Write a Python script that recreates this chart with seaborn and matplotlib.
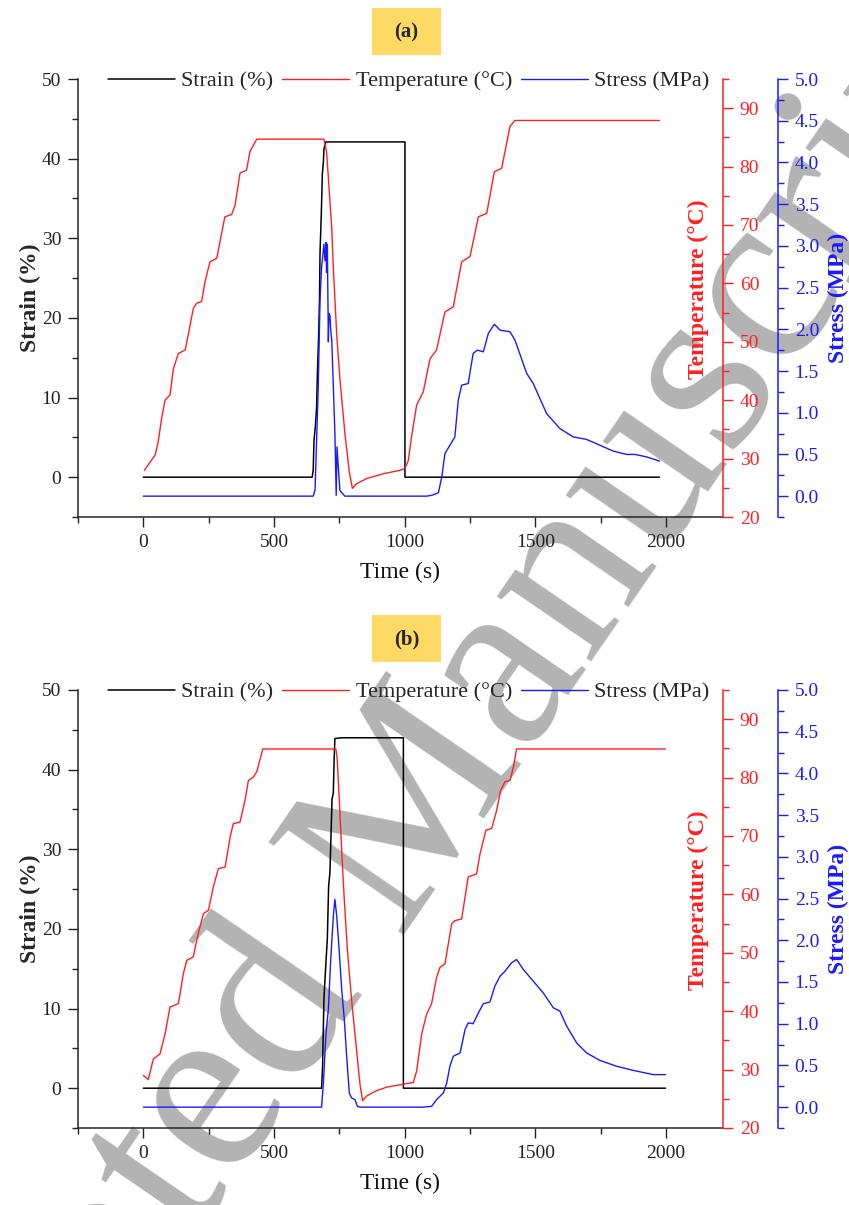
import matplotlib
matplotlib.use('Agg')
import numpy as np
import pandas as pd
import matplotlib.pyplot as plt
import seaborn as sns
from matplotlib.ticker import MultipleLocator
from matplotlib.lines import Line2D
from matplotlib.patches import Rectangle

sns.set_style('ticks')
plt.rcParams['font.family'] = ['Liberation Serif', 'DejaVu Serif']

# ---- panel (a) ----
a_strain_t = [0, 646, 650, 653, 658, 663, 666, 671, 674, 676,
              681, 685, 689, 691, 698, 1001, 1001, 1975]
a_strain = [0, 0, 0.9, 4.6, 6.3, 8.8, 13.0, 18.0, 22.2, 28.1,
            33.1, 38.1, 39.6, 41.2, 42.1, 42.1, 0, 0]

a_temp_t = [4, 26, 45, 57, 70, 83, 102, 115, 134, 160,
            172, 191, 204, 223, 236, 255, 281, 293, 312, 338,
            351, 370, 395, 408, 434, 691, 701, 709, 721, 727,
            740, 752, 772, 788, 800, 816, 855, 918, 982, 1001,
            1014, 1027, 1046, 1071, 1097, 1122, 1154, 1186, 1218, 1250,
            1282, 1314, 1343, 1371, 1403, 1422, 1975]
a_temp = [28.0, 29.4, 30.6, 32.9, 36.9, 40.0, 40.9, 45.4, 48.0, 48.6,
          51.2, 55.7, 56.6, 56.9, 60.3, 63.7, 64.3, 67.1, 71.4, 71.8,
          73.4, 78.9, 79.4, 82.6, 84.7, 84.7, 82.6, 77.4, 69.4, 62.6,
          51.2, 43.7, 34.0, 27.7, 24.9, 25.7, 26.6, 27.4, 28.0, 28.3,
          29.7, 34.0, 39.2, 41.4, 47.1, 48.6, 55.1, 56.0, 63.7, 64.6,
          71.4, 72.0, 79.1, 79.7, 86.9, 87.9, 87.9]

a_stress_t = [0, 650, 657, 663, 669, 676, 682, 691, 695, 699,
              701, 704, 708, 710, 714, 717, 721, 727, 733, 738,
              741, 746, 752, 771, 1084, 1103, 1129, 1142, 1154, 1173,
              1192, 1205, 1218, 1243, 1262, 1278, 1301, 1320, 1343, 1365,
              1403, 1422, 1467, 1492, 1543, 1594, 1645, 1696, 1747, 1798,
              1849, 1881, 1926, 1975]
a_stress = [0, 0, 0.07, 0.67, 1.27, 2.34, 2.74, 3.02, 2.82, 3.04,
            2.68, 3.02, 1.85, 2.19, 2.17, 1.99, 1.87, 1.31, 0.75, 0.01,
            0.59, 0.35, 0.07, 0, 0, 0.01, 0.04, 0.23, 0.51, 0.61,
            0.71, 1.15, 1.33, 1.35, 1.71, 1.75, 1.73, 1.95, 2.06, 1.99,
            1.97, 1.87, 1.47, 1.35, 0.99, 0.81, 0.71, 0.68, 0.61, 0.54,
            0.50, 0.50, 0.47, 0.42]

# ---- panel (b) ----
b_strain_t = [0, 682, 686, 691, 698, 704, 709, 714, 718, 722,
              727, 730, 733, 758, 995, 995, 1998]
b_strain = [0, 0, 2.8, 11.2, 15.4, 18.7, 25.4, 27.1, 31.7, 36.3,
            37.1, 41.3, 43.9, 44.0, 44.0, 0, 0]

b_temp_t = [0, 19, 38, 64, 83, 102, 134, 153, 166, 191,
            210, 230, 249, 268, 287, 313, 332, 344, 370, 389,
            402, 421, 434, 457, 737, 742, 750, 759, 769, 781,
            797, 816, 829, 839, 855, 893, 931, 995, 1033, 1046,
            1065, 1084, 1103, 1122, 1135, 1154, 1180, 1192, 1218, 1243,
            1275, 1288, 1311, 1333, 1352, 1367, 1384, 1403, 1416, 1428,
            1998]
b_temp = [29.0, 28.3, 31.8, 32.7, 36.1, 40.7, 41.3, 46.4, 48.7, 49.3,
          53.3, 56.7, 57.3, 61.3, 64.4, 64.7, 69.8, 72.1, 72.4, 76.1,
          79.5, 80.1, 81.0, 84.9, 84.9, 83.0, 76.1, 67.5, 59.0, 50.4,
          41.8, 33.3, 27.5, 24.7, 25.5, 26.4, 27.0, 27.5, 27.8, 29.8,
          36.1, 39.5, 41.3, 45.8, 47.5, 48.1, 55.0, 55.5, 55.8, 63.0,
          63.5, 66.9, 71.0, 71.3, 74.4, 77.8, 79.3, 79.5, 81.8, 84.9,
          84.9]

b_stress_t = [0, 682, 689, 699, 708, 717, 727, 733, 740, 750,
              759, 769, 778, 788, 797, 810, 819, 830, 1071, 1103,
              1122, 1148, 1161, 1173, 1186, 1212, 1231, 1243, 1262, 1282,
              1301, 1326, 1345, 1365, 1384, 1409, 1428, 1454, 1492, 1530,
              1569, 1594, 1620, 1658, 1696, 1747, 1811, 1875, 1951, 1998]
b_stress = [0, 0, 0.29, 0.89, 1.17, 1.77, 2.29, 2.49, 2.29, 1.85,
            1.41, 1.05, 0.61, 0.17, 0.11, 0.09, 0.01, 0, 0, 0.01,
            0.09, 0.17, 0.29, 0.49, 0.61, 0.65, 0.93, 1.01, 1.0, 1.13,
            1.24, 1.26, 1.45, 1.57, 1.63, 1.73, 1.77, 1.65, 1.51, 1.37,
            1.19, 1.15, 0.97, 0.77, 0.65, 0.56, 0.49, 0.44, 0.39, 0.39]

W, H = 849, 1205
RED = '#ff2020'
BLUE = '#1a1aff'
fig = plt.figure(figsize=(W / 100, H / 100), dpi=100)


def draw_panel(top_px, strain_t, strain, temp_t, temp, stress_t, stress):
    ax = fig.add_axes([78 / W, 1 - (top_px + 438) / H, 645 / W, 438 / H])
    ax.patch.set_alpha(0)
    ax2 = ax.twinx()
    ax3 = ax.twinx()

    df_s = pd.DataFrame({'t': strain_t, 'v': strain})
    df_t = pd.DataFrame({'t': temp_t, 'v': temp})
    df_p = pd.DataFrame({'t': stress_t, 'v': stress})
    sns.lineplot(data=df_s, x='t', y='v', ax=ax, color='black', lw=1.1,
                 estimator=None, sort=False)
    sns.lineplot(data=df_t, x='t', y='v', ax=ax2, color=RED, lw=1.0,
                 estimator=None, sort=False)
    sns.lineplot(data=df_p, x='t', y='v', ax=ax3, color=BLUE, lw=1.0,
                 estimator=None, sort=False)

    ax.set_xlim(-250, 2218)
    ax.set_ylim(-5, 50)
    ax2.set_ylim(20, 95)
    ax3.set_ylim(-0.25, 5.0)

    for a in (ax, ax2, ax3):
        for s in a.spines.values():
            s.set_visible(False)
            s.set_linewidth(1.1)
    ax.spines['left'].set_visible(True)
    ax.spines['bottom'].set_visible(True)
    ax2.spines['right'].set_visible(True)
    ax2.spines['right'].set_color(RED)
    ax3.spines['right'].set_visible(True)
    ax3.spines['right'].set_color(BLUE)
    ax3.spines['right'].set_position(('axes', (778 - 78) / 645))

    ax.xaxis.set_major_locator(MultipleLocator(500))
    ax.xaxis.set_minor_locator(MultipleLocator(250))
    ax.yaxis.set_major_locator(MultipleLocator(10))
    ax.yaxis.set_minor_locator(MultipleLocator(5))
    ax2.yaxis.set_major_locator(MultipleLocator(10))
    ax2.yaxis.set_minor_locator(MultipleLocator(5))
    ax3.yaxis.set_major_locator(MultipleLocator(0.5))
    ax3.yaxis.set_minor_locator(MultipleLocator(0.25))
    ax3.yaxis.set_major_formatter(matplotlib.ticker.FormatStrFormatter('%.1f'))

    ax.tick_params(which='major', direction='out', length=7, width=1,
                   labelsize=14, colors='#222222', pad=5)
    ax.tick_params(which='minor', direction='out', length=4, width=1, colors='#222222')
    ax2.tick_params(axis='y', which='major', length=7, width=1, labelsize=14,
                    colors=RED, pad=5)
    ax2.tick_params(axis='y', which='minor', length=4, width=1, colors=RED)
    ax3.tick_params(axis='y', which='major', length=7, width=1, labelsize=14,
                    colors=BLUE, pad=5)
    ax3.tick_params(axis='y', which='minor', length=4, width=1, colors=BLUE)

    ax.set_xlabel('Time (s)', fontsize=17, color='#111111', labelpad=8)
    ax.set_ylabel('Strain (%)', fontsize=17, fontweight='bold', va='center')
    ax.yaxis.set_label_coords(-0.074, 0.5)
    ax2.set_ylabel('Temperature (°C)', fontsize=17, fontweight='bold',
                   color=RED, va='center')
    ax2.yaxis.set_label_coords((698 - 78) / 645, 0.52)
    ax3.set_ylabel('Stress (MPa)', fontsize=17, fontweight='bold',
                   color=BLUE, va='center')
    ax3.yaxis.set_label_coords((838 - 78) / 645, 0.5)

    handles = [Line2D([], [], color='black', lw=1.1),
               Line2D([], [], color=RED, lw=1.0),
               Line2D([], [], color=BLUE, lw=1.0)]
    labels = ['Strain (%)', 'Temperature (°C)', 'Stress (MPa)']
    ax3.legend(handles, labels, loc='center left',
               bbox_to_anchor=((108 - 78) / 645, 0.995), ncol=3, frameon=False,
               fontsize=16, handlelength=3.0, handletextpad=0.3,
               columnspacing=0.4, borderaxespad=0, borderpad=0)
    return ax


draw_panel(79, a_strain_t, a_strain, a_temp_t, a_temp, a_stress_t, a_stress)
draw_panel(690, b_strain_t, b_strain, b_temp_t, b_temp, b_stress_t, b_stress)

# panel tags
for tag, ytop in (('(a)', 8), ('(b)', 615)):
    fig.add_artist(Rectangle((372 / W, 1 - (ytop + 47) / H), 69 / W, 47 / H,
                             transform=fig.transFigure, facecolor='#ffd966',
                             edgecolor='none'))
    fig.text(406.5 / W, 1 - (ytop + 24) / H, tag, ha='center', va='center',
             fontsize=15, fontweight='bold')

# watermark behind everything
fig.text(388 / W, 1 - 852 / H, 'Accepted Manuscript', rotation=55.5,
         rotation_mode='anchor', ha='center', va='center', fontsize=180,
         color='#b3b3b3', zorder=-1, family='Liberation Serif')

fig.savefig('out.png', dpi=100)
